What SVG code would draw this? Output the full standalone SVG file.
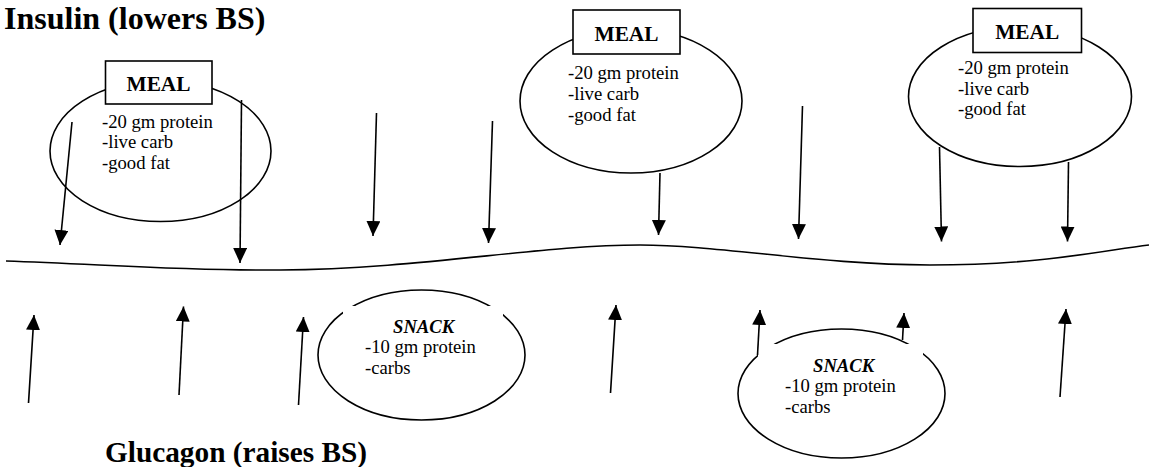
<svg xmlns="http://www.w3.org/2000/svg" width="1149" height="467" viewBox="0 0 1149 467">
  <style>
    .title { font-family: "Liberation Serif", "Times New Roman", serif; font-weight: bold; fill: #000; }
    .body { font-family: "Liberation Serif", "Times New Roman", serif; font-size: 18.67px; fill: #000; }
    .meal { font-family: "Liberation Serif", "Times New Roman", serif; font-size: 21.33px; font-weight: bold; fill: #000; text-anchor: middle; }
    .snack { font-family: "Liberation Serif", "Times New Roman", serif; font-size: 18.67px; font-weight: bold; font-style: italic; fill: #000; }
    .shape { fill: none; stroke: #000; stroke-width: 1.6; }
    .box { fill: #fff; stroke: #000; stroke-width: 1.6; }
    .mask { fill: #fff; stroke: none; }
    .arrow { fill: none; stroke: #000; stroke-width: 1.6; marker-end: url(#head); }
  </style>
  <defs>
    <marker id="head" markerUnits="userSpaceOnUse" viewBox="0 0 15 14" markerWidth="15" markerHeight="14" refX="15" refY="7" orient="auto">
      <path d="M0,0 L15,7 L0,14 Z" fill="#000"/>
    </marker>
  </defs>
  <rect width="1149" height="467" fill="#fff"/>

  <text class="title" x="4" y="28.5" font-size="32">Insulin (lowers BS)</text>
  <text class="title" x="105" y="462" font-size="29.3">Glucagon (raises BS)</text>

  <path id="bs-curve" class="shape" d="M6,261 C100,264 180,271 280,270 C420,269 540,245 640,245 C720,245 820,265 930,265 C1040,265 1100,251 1149,245"/>

  <g id="meal1">
    <ellipse class="shape" cx="160.5" cy="151" rx="110.5" ry="70.5"/>
    <rect class="box" x="105.5" y="61" width="106.5" height="43"/>
    <text class="meal" x="158.5" y="91">MEAL</text>
    <text class="body" x="102" y="127.7">-20 gm protein</text>
    <text class="body" x="102" y="148.3">-live carb</text>
    <text class="body" x="102" y="168.7">-good fat</text>
  </g>

  <g id="meal2">
    <ellipse class="shape" cx="631" cy="101" rx="111" ry="72"/>
    <rect class="box" x="573" y="10" width="107" height="44"/>
    <text class="meal" x="626.5" y="40.7">MEAL</text>
    <text class="body" x="568" y="79.3">-20 gm protein</text>
    <text class="body" x="568" y="100">-live carb</text>
    <text class="body" x="568" y="120.5">-good fat</text>
  </g>

  <g id="meal3">
    <ellipse class="shape" cx="1020" cy="96.5" rx="111.5" ry="70"/>
    <rect class="box" x="973" y="8.5" width="108.5" height="44"/>
    <text class="meal" x="1027.2" y="39.3">MEAL</text>
    <text class="body" x="958" y="74">-20 gm protein</text>
    <text class="body" x="958" y="95">-live carb</text>
    <text class="body" x="958" y="115">-good fat</text>
  </g>

  <g id="snack1">
    <ellipse class="shape" cx="421.5" cy="355" rx="103.5" ry="65"/>
    <rect class="mask" x="343" y="306" width="160" height="80"/>
    <text class="snack" x="393" y="332.7">SNACK</text>
    <text class="body" x="365" y="353.3">-10 gm protein</text>
    <text class="body" x="365" y="374">-carbs</text>
  </g>

  <g id="snack2">
    <ellipse class="shape" cx="841.5" cy="393.5" rx="103.5" ry="64.5"/>
    <rect class="mask" x="758" y="344" width="165" height="80"/>
    <text class="snack" x="813" y="371.7">SNACK</text>
    <text class="body" x="785" y="391.7">-10 gm protein</text>
    <text class="body" x="785" y="413">-carbs</text>
  </g>

  <g id="connectors">
    <line class="arrow" x1="72" y1="122" x2="60" y2="245"/>
    <line class="arrow" x1="241.5" y1="100" x2="240" y2="263"/>
    <line class="arrow" x1="376.5" y1="113" x2="373" y2="236"/>
    <line class="arrow" x1="492.5" y1="121" x2="488.5" y2="243"/>
    <line class="arrow" x1="660" y1="173" x2="658.5" y2="235"/>
    <line class="arrow" x1="802.5" y1="106" x2="798.5" y2="239"/>
    <line class="arrow" x1="939.5" y1="147" x2="941.5" y2="241.5"/>
    <line class="arrow" x1="1068.5" y1="162" x2="1067.5" y2="241.5"/>

    <line class="arrow" x1="28.5" y1="403" x2="34" y2="315"/>
    <line class="arrow" x1="179" y1="395" x2="183.5" y2="306.5"/>
    <line class="arrow" x1="298.5" y1="405" x2="303.5" y2="317"/>
    <line class="arrow" x1="610.5" y1="393" x2="616" y2="305"/>
    <line class="arrow" x1="757.5" y1="355" x2="760" y2="310"/>
    <line class="arrow" x1="902.5" y1="340" x2="904" y2="313"/>
    <line class="arrow" x1="1060" y1="397" x2="1066" y2="309"/>
  </g>
</svg>
